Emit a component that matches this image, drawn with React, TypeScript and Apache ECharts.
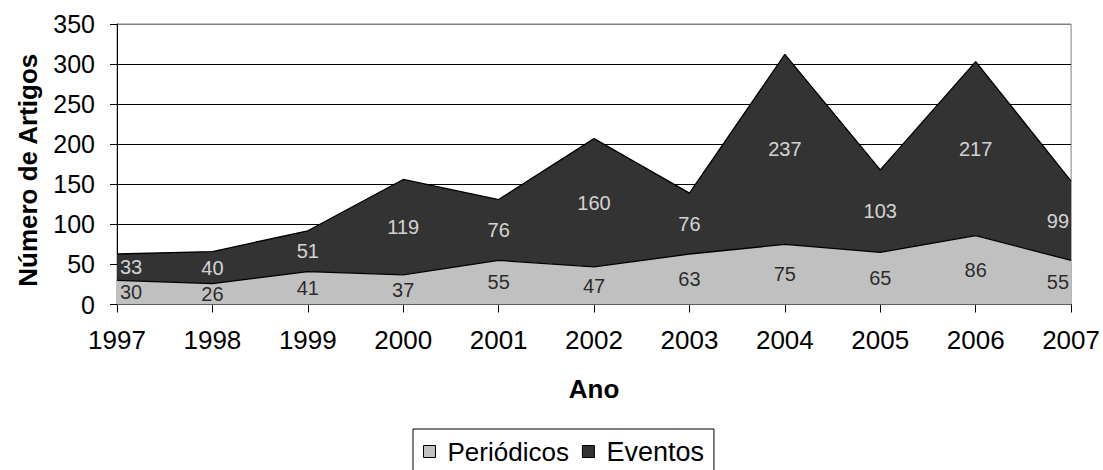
import React, { useEffect, useRef } from "react";
import * as echarts from "echarts";

// Articles per year, split by publication venue
const years = ["1997", "1998", "1999", "2000", "2001", "2002", "2003", "2004", "2005", "2006", "2007"];
const periodicos = [30, 26, 41, 37, 55, 47, 63, 75, 65, 86, 55];
const eventos = [33, 40, 51, 119, 76, 160, 76, 237, 103, 217, 99];

const FONT = "'Liberation Sans', Arial, sans-serif";
const PERIODICOS_FILL = "#c0c0c0";
const EVENTOS_FILL = "#333333";

// Label points sit at the vertical middle of each stacked band
function bandLabels(values: number[], base: number[], color: string) {
  const last = values.length - 1;
  return values.map((v, i) => {
    const align = i === 0 ? "left" : i === last ? "right" : "center";
    const offset = i === 0 ? [3, 0] : i === last ? [-2, 0] : [0, 0];
    return {
      value: [i, base[i] + v / 2, v],
      label: { align, offset, color },
    };
  });
}

export default function App() {
  const ref = useRef<HTMLDivElement | null>(null);

  useEffect(() => {
    document.body.style.margin = "0";
    if (!ref.current) return;
    const chart = echarts.init(ref.current, null, { renderer: "svg" });

    const zeros = periodicos.map(() => 0);

    const labelSeries = (name: string, data: any[]) => ({
      name,
      type: "scatter",
      symbolSize: 0,
      silent: true,
      z: 10,
      data,
      label: {
        show: true,
        position: "inside",
        fontFamily: FONT,
        fontSize: 20,
        formatter: (p: any) => String(p.value[2]),
      },
      tooltip: { show: false },
    });

    chart.setOption({
      animation: false,
      textStyle: { fontFamily: FONT },
      grid: {
        left: 117,
        top: 24,
        right: 30,
        bottom: 165.5,
        show: true,
        borderColor: "#808080",
        borderWidth: 1,
        backgroundColor: "transparent",
      },
      legend: {
        left: 413,
        top: 429,
        padding: [9, 10, 14, 10],
        borderColor: "#000",
        borderWidth: 1,
        icon: "rect",
        itemWidth: 12,
        itemHeight: 12,
        itemGap: 13,
        textStyle: { fontFamily: FONT, fontSize: 26, color: "#000", padding: [0, 0, 0, 7] },
        data: [
          { name: "Periódicos", itemStyle: { color: PERIODICOS_FILL, borderColor: "#000", borderWidth: 1 } },
          {
            name: "Eventos",
            itemStyle: { color: EVENTOS_FILL, borderColor: "#000", borderWidth: 1 },
            textStyle: { fontSize: 27 },
          },
        ],
      },
      xAxis: {
        type: "category",
        data: years,
        boundaryGap: false,
        name: "Ano",
        nameLocation: "middle",
        nameGap: 71,
        nameTextStyle: { fontFamily: FONT, fontSize: 26, fontWeight: "bold", color: "#000" },
        axisLine: { lineStyle: { color: "#000", width: 1 } },
        axisTick: { show: true, length: 8, alignWithLabel: true, lineStyle: { color: "#000" } },
        axisLabel: { fontFamily: FONT, fontSize: 26, color: "#000", margin: 22 },
        splitLine: { show: false },
      },
      yAxis: {
        type: "value",
        min: 0,
        max: 350,
        interval: 50,
        name: "Número de Artigos",
        nameLocation: "middle",
        nameRotate: 90,
        nameGap: 76,
        nameTextStyle: {
          fontFamily: FONT,
          fontSize: 26,
          fontWeight: "bold",
          color: "#000",
          padding: [0, 12, 0, 0],
        },
        axisLine: { show: true, lineStyle: { color: "#000", width: 1 } },
        axisTick: { show: true, length: 7, lineStyle: { color: "#000" } },
        axisLabel: { fontFamily: FONT, fontSize: 25, color: "#000", margin: 22 },
        splitLine: {
          show: true,
          lineStyle: {
            color: ["#000", "#000", "#000", "#000", "#000", "#000", "#000", "#808080"],
            width: 1,
          },
        },
      },
      series: [
        {
          name: "Periódicos",
          type: "line",
          stack: "total",
          data: periodicos,
          symbol: "none",
          itemStyle: { color: PERIODICOS_FILL, borderColor: "#000" },
          lineStyle: { color: "#000", width: 1.3 },
          areaStyle: { color: PERIODICOS_FILL, opacity: 1 },
          z: 3,
        },
        {
          name: "Eventos",
          type: "line",
          stack: "total",
          data: eventos,
          symbol: "none",
          itemStyle: { color: EVENTOS_FILL, borderColor: "#000" },
          lineStyle: { color: "#000", width: 1.3 },
          areaStyle: { color: EVENTOS_FILL, opacity: 1 },
          z: 2,
        },
        labelSeries("Periódicos valores", bandLabels(periodicos, zeros, "#000")),
        labelSeries("Eventos valores", bandLabels(eventos, periodicos, "#fff")),
      ],
    });

    return () => chart.dispose();
  }, []);

  return <div ref={ref} style={{ width: 1103, height: 470 }} />;
}
